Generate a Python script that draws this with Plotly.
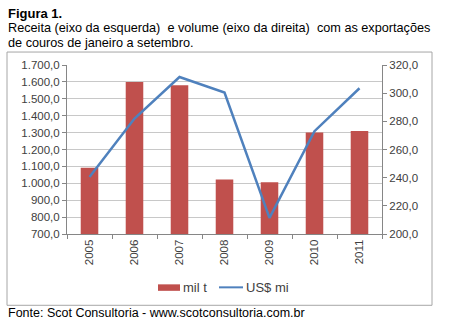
import plotly.graph_objects as go

years = ["2005", "2006", "2007", "2008", "2009", "2010", "2011"]
volume_mil_t = [1092, 1600, 1580, 1023, 1006, 1300, 1310]
receita_usd_mi = [240.5, 282.0, 311.5, 300.5, 211.5, 273.0, 303.5]

# plot-area geometry in pixels
W_FIG, H_FIG = 450, 322
L, R, T, B = 67, 382, 65, 234.5
PW, PH = R - L, B - T


def px(x):
    return (x - L) / PW


def py(y):
    return (B - y) / PH


FONT = "Liberation Sans"
TICKFONT = dict(family=FONT, size=11.5, color="#404040")

fig = go.Figure()
fig.add_trace(go.Bar(x=years, y=volume_mil_t, name="mil t",
                     marker=dict(color="#C0504D", line=dict(width=0)),
                     yaxis="y", showlegend=False))
fig.add_trace(go.Scatter(x=years, y=receita_usd_mi, name="US$ mi", mode="lines",
                         line=dict(color="#4F81BD", width=2.5),
                         yaxis="y2", showlegend=False))

shapes = [
    dict(type="rect", xref="paper", yref="paper", x0=px(7), x1=px(432), y0=py(306), y1=py(52),
         line=dict(color="#A6A6A6", width=1), fillcolor="rgba(0,0,0,0)", layer="below"),
    # legend symbols
    dict(type="rect", xref="paper", yref="paper", x0=px(158), x1=px(180), y0=py(291.5), y1=py(285),
         line=dict(width=0), fillcolor="#C0504D"),
    dict(type="line", xref="paper", yref="paper", x0=px(219), x1=px(243), y0=py(288), y1=py(288),
         line=dict(color="#4F81BD", width=2)),
]

annotations = [
    dict(text="<b>Figura 1.</b>", x=px(6), y=py(13), font=dict(family=FONT, size=13, color="#000")),
    dict(text="Receita (eixo da esquerda)  e volume (eixo da direita)  com as exportações",
         x=px(6), y=py(28), font=dict(family=FONT, size=12.7, color="#000")),
    dict(text="de couros de janeiro a setembro.", x=px(6), y=py(43),
         font=dict(family=FONT, size=12.7, color="#000")),
    dict(text="Fonte: Scot Consultoria - www.scotconsultoria.com.br", x=px(6), y=py(314),
         font=dict(family=FONT, size=12.5, color="#000")),
    dict(text="mil t", x=px(181), y=py(288), font=dict(family=FONT, size=13, color="#404040")),
    dict(text="US$ mi", x=px(244), y=py(288), font=dict(family=FONT, size=13, color="#404040")),
]
for a in annotations:
    a.update(xref="paper", yref="paper", xanchor="left", yanchor="middle", showarrow=False)

fig.update_layout(
    width=W_FIG, height=H_FIG,
    margin=dict(l=L, r=W_FIG - R, t=T, b=H_FIG - B, pad=0),
    paper_bgcolor="white", plot_bgcolor="white",
    separators=",.",
    bargap=0.61,
    showlegend=False,
    shapes=shapes,
    annotations=annotations,
    xaxis=dict(type="category", range=[-0.5, 6.5], showline=True, linecolor="#868686", linewidth=1,
               ticks="outside", tickson="boundaries", ticklen=4, tickcolor="#868686",
               tickangle=-90, tickfont=TICKFONT, showgrid=False, fixedrange=True),
    yaxis=dict(range=[700, 1700], dtick=100, tick0=700, tickformat=",.1f", showline=True,
               linecolor="#868686", linewidth=1, ticks="outside", ticklen=4, tickcolor="#868686",
               gridcolor="#C8C8C8", gridwidth=1, tickfont=TICKFONT, zeroline=False),
    yaxis2=dict(range=[200, 320], dtick=20, tick0=200, tickformat=",.1f", overlaying="y", side="right",
                showline=True, linecolor="#868686", linewidth=1, ticks="outside", ticklen=4,
                tickcolor="#868686", showgrid=False, tickfont=TICKFONT, zeroline=False),
)

fig.write_html("out.html")
